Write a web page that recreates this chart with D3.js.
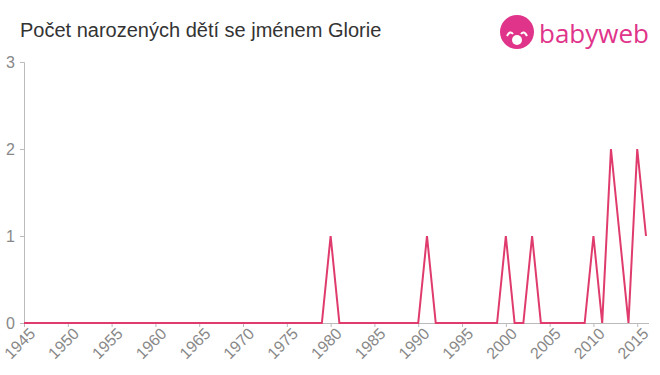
<!DOCTYPE html>
<html lang="cs">
<head>
<meta charset="UTF-8" />
<title>Glorie</title>
<script src="https://d3js.org/d3.v7.min.js"></script>
<style>
  body { margin: 0; background: #fff; font-family: 'Liberation Sans', Arial, sans-serif; }
  svg { display: block; }
  .axis path, .axis line { stroke: #bbb; }
  .axis text { fill: #888; }
</style>
</head>
<body>
<svg width="660" height="375"></svg>
<script>
  // years and counts
  const years = d3.range(1945, 2017);
  const nonZero = { 1980: 1, 1991: 1, 2000: 1, 2003: 1, 2010: 1, 2012: 2, 2013: 1, 2015: 2, 2016: 1 };
  const counts = years.map(y => nonZero[y] || 0);
  const xTicks = d3.range(1945, 2016, 5);
  const yTicks = [0, 1, 2, 3];

  const svg = d3.select("svg");
  const x = d3.scaleLinear().domain([1945, 2016]).range([24, 646]);
  const y = d3.scaleLinear().domain([0, 3]).range([323, 62]);

  svg.append("text")
    .attr("x", 20).attr("y", 37)
    .attr("font-size", 20).attr("fill", "#333")
    .text("Počet narozených dětí se jménem Glorie");

  // logo
  const logo = svg.append("g").attr("transform", "translate(517,32)");
  logo.append("circle").attr("r", 17).attr("fill", "#e0348a");
  logo.append("circle").attr("cy", 8).attr("r", 5).attr("fill", "#fff");
  logo.append("path").attr("d", "M-10,4 q3,-6 6,-2 M10,4 q-3,-6 -6,-2").attr("stroke", "#fff").attr("stroke-width", 2).attr("fill", "none");
  svg.append("text")
    .attr("x", 539).attr("y", 43)
    .attr("font-size", 26).attr("fill", "#e0348a")
    .attr("font-family", "'Open Sans', sans-serif")
    .text("babyweb");

  const yAxis = svg.append("g").attr("class", "axis")
    .attr("transform", "translate(24,0)")
    .call(d3.axisLeft(y).tickValues(yTicks).tickSize(4).tickPadding(5).tickFormat(d3.format("d")));
  yAxis.selectAll("text").attr("font-size", 16);
  yAxis.select(".domain").attr("d", "M-4,62.5H0.5V323.5");

  const xAxis = svg.append("g").attr("class", "axis")
    .attr("transform", "translate(0,323)")
    .call(d3.axisBottom(x).tickValues(xTicks).tickSize(4).tickFormat(d3.format("d")));
  xAxis.select(".domain").attr("d", "M24,0.5H649");
  xAxis.selectAll("text")
    .attr("font-size", 16)
    .attr("text-anchor", "end")
    .attr("dx", "0em").attr("dy", "0.6em")
    .attr("transform", "rotate(-45)");

  svg.append("path")
    .datum(counts)
    .attr("fill", "none")
    .attr("stroke", "#e03b6d")
    .attr("stroke-width", 2)
    .attr("d", d3.line().x((d, i) => x(years[i])).y(d => y(d)));
</script>
</body>
</html>
